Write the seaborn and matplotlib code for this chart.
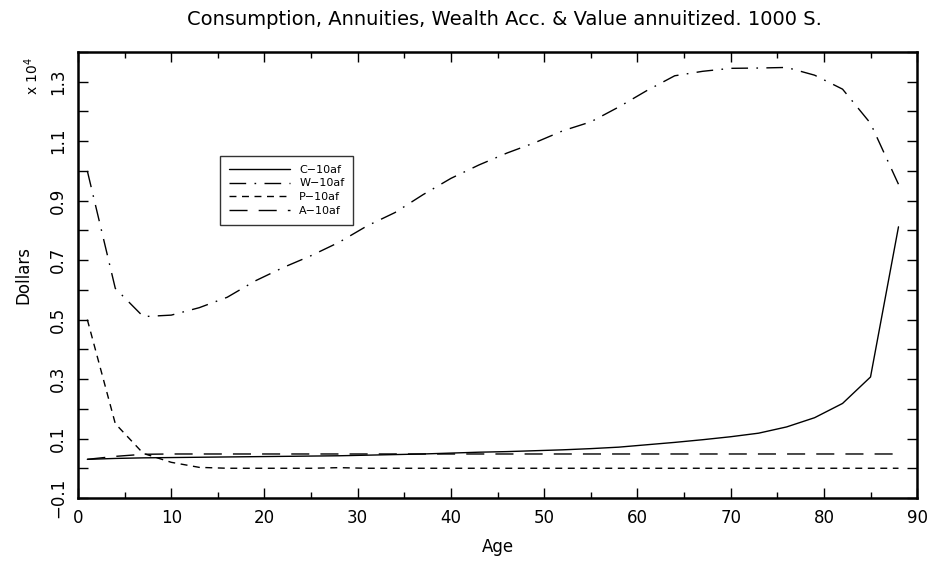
import numpy as np
import pandas as pd
import matplotlib
matplotlib.use("Agg")
import matplotlib.pyplot as plt
import seaborn as sns
from matplotlib.ticker import MultipleLocator, FixedLocator

# ages on the model grid (every 3 years)
ages = list(range(1, 89, 3))

# values in units of 10^4 dollars
consumption = [0.030, 0.033, 0.035, 0.036, 0.037, 0.038, 0.039, 0.040, 0.041, 0.042,
               0.044, 0.046, 0.048, 0.051, 0.054, 0.056, 0.059, 0.062, 0.066, 0.071,
               0.079, 0.087, 0.096, 0.106, 0.118, 0.139, 0.170, 0.218, 0.307, 0.812]
wealth = [1.000, 0.605, 0.510, 0.515, 0.540, 0.575, 0.630, 0.675, 0.715, 0.760,
          0.815, 0.860, 0.920, 0.975, 1.020, 1.060, 1.095, 1.135, 1.165, 1.215,
          1.270, 1.320, 1.335, 1.345, 1.346, 1.348, 1.322, 1.275, 1.160, 0.955]
value_annuitized = [0.500, 0.150, 0.050, 0.020, 0.003, 0.000, 0.000, 0.000, 0.000, 0.002,
                    0.000, 0.000, 0.000, 0.000, 0.000, 0.000, 0.000, 0.000, 0.000, 0.000,
                    0.000, 0.000, 0.000, 0.000, 0.000, 0.000, 0.000, 0.000, 0.000, 0.000]
annuities = [0.030, 0.040, 0.047, 0.048, 0.048, 0.048, 0.048, 0.048, 0.048, 0.048,
             0.048, 0.048, 0.048, 0.048, 0.048, 0.048, 0.048, 0.048, 0.048, 0.048,
             0.048, 0.048, 0.048, 0.048, 0.048, 0.048, 0.048, 0.048, 0.048, 0.048]

series_labels = ["C\u221210af", "W\u221210af", "P\u221210af", "A\u221210af"]
series_values = [consumption, wealth, value_annuitized, annuities]
series_styles = ["-", (0, (12, 6, 1.2, 6)), (0, (5, 4)), (0, (13, 8))]

sns.set_theme(style="ticks")
plt.rcParams['font.family'] = ['DejaVu Sans']
plt.rcParams.update({
    'axes.linewidth': 1.8,
    'axes.edgecolor': 'black',
    'axes.labelcolor': 'black',
    'text.color': 'black',
    'xtick.color': 'black',
    'ytick.color': 'black',
})

fig = plt.figure(figsize=(9.33, 5.65), dpi=100)
ax = fig.add_axes([0.0836, 0.1186, 0.8994, 0.7894])

for label, vals, ls in zip(series_labels, series_values, series_styles):
    df = pd.DataFrame({"Age": ages, "Value": vals})
    sns.lineplot(data=df, x="Age", y="Value", ax=ax, color="black",
                 linewidth=1.0, linestyle=ls, label=label)

ax.set_xlim(0, 90)
ax.set_ylim(-0.1, 1.4)
ax.xaxis.set_major_locator(MultipleLocator(10))
ax.xaxis.set_minor_locator(MultipleLocator(5))
ax.yaxis.set_major_locator(FixedLocator(np.arange(-0.1, 1.31, 0.2)))
ax.yaxis.set_minor_locator(FixedLocator(np.arange(0.0, 1.41, 0.1)))
ax.set_yticklabels(["\u22120.1", "0.1", "0.3", "0.5", "0.7", "0.9", "1.1", "1.3"],
                   rotation=90, va="center")
ax.tick_params(which="both", direction="in", top=True, right=True,
               labelsize=12, width=1.0, pad=8)
ax.tick_params(which="major", length=7)
ax.tick_params(axis="y", which="minor", length=7)
ax.tick_params(axis="x", which="minor", length=4)

ax.set_xlabel("Age", fontsize=12, labelpad=8)
ax.set_ylabel("Dollars", fontsize=12, labelpad=12)

fig.text(0.541, 0.965, "Consumption, Annuities, Wealth Acc. & Value annuitized. 1000 S.",
         ha="center", va="center", fontsize=14)
fig.text(0.034, 0.865, r"x 10$^4$", rotation=90, ha="center", va="center", fontsize=10)

leg = ax.legend(loc="upper left", bbox_to_anchor=(0.163, 0.78), frameon=True,
                fancybox=False, edgecolor="black", fontsize=8, handlelength=5.5,
                borderpad=0.8, labelspacing=0.35)
leg.get_frame().set_linewidth(1.0)

fig.savefig("out.png", dpi=100, facecolor="white")
